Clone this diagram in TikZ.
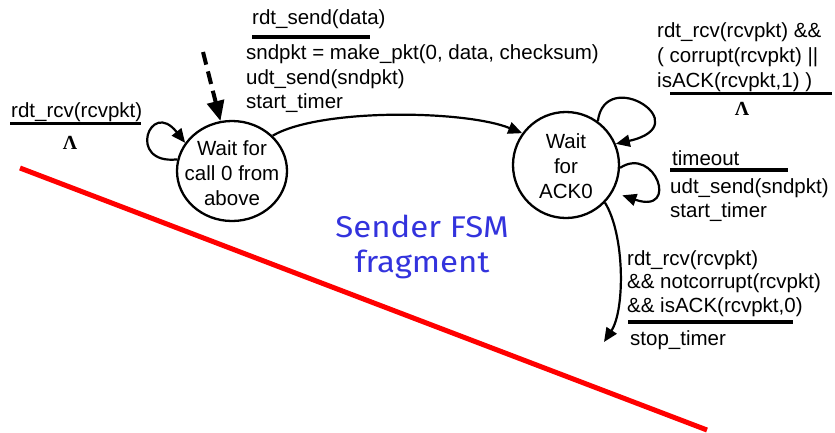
\documentclass[tikz,border=0pt]{standalone}
\usepackage{fontspec}
\setmainfont{Liberation Sans}
\newfontfamily\lamfont{Liberation Serif}
\newfontfamily\fsmfont[FakeStretch=1.1]{Fira Sans}
\usetikzlibrary{arrows.meta,shapes.geometric,calc}
\definecolor{fsmblue}{RGB}{51,51,221}
\definecolor{fsmred}{RGB}{255,0,0}
\tikzset{
  lbl/.style={inner sep=0pt, anchor=base west, font=\fontsize{20.5}{25}\selectfont},
  lam/.style={inner sep=0pt, anchor=base, font=\lamfont\bfseries\fontsize{20}{22}\selectfont},
  statetext/.style={inner sep=0pt, align=center, font=\fontsize{20.5}{25}\selectfont},
  stateshape/.style={draw, line width=2.3pt, inner sep=0pt},
  trans/.style={line width=2.2pt, -{Triangle[length=14pt,width=12pt]}},
  guard/.style={line width=3.5pt},
  fsmlbl/.style={inner sep=0pt, anchor=base, text=fsmblue, font=\fsmfont\fontsize{30}{35}\selectfont},
}
\begin{document}
\begin{tikzpicture}[x=1pt,y=-1pt]
\useasboundingbox (0,0) rectangle (835,432);

% red divider
\coordinate (r1) at (20,168);
\coordinate (r2) at (707,430);
\draw[fsmred, line width=5pt] (r1) -- (r2);

% states
\node[stateshape, ellipse, minimum width=110pt, minimum height=100pt] (w0) at (232,171) {};
\node[statetext] (w0t) at ($(w0.center)+(0,2)$) {Wait for\\call 0 from\\above};
\node[stateshape, circle, minimum size=106pt] (w1) at (566,165) {};
\node[statetext] (w1t) at ($(w1.center)+(0,1)$) {Wait\\for\\ACK0};

% initial dashed arrow
\coordinate (d0) at (203,52);
\draw[line width=4pt, dash pattern=on 13pt off 7pt, -{Triangle[length=20pt,width=17pt]}] (d0) -- (w0.103);

% transitions
\draw[trans] (w0.168) .. controls (126,165) and (150,98) .. (w0.149);
\draw[trans] (w0.41) .. controls (320,108) and (465,110) .. (w1.144);
\draw[trans] (w1.54) .. controls (605,65) and (700,125) .. (w1.23);
\draw[trans, shorten >=10pt] (w1.-3) .. controls (655,145) and (680,215) .. (w1.-30);
\coordinate (b0) at (604,342);
\draw[trans] (w1.-44) .. controls (625,235) and (625,310) .. (b0);

% top label
\node[lbl] (t1) at (252,24) {rdt\_send(data)};
\coordinate (t1a) at (252,37); \coordinate (t1b) at (370,37);
\draw[guard] (t1a) -- (t1b);
\node[lbl] (t2) at (246,59) {sndpkt = make\_pkt(0, data, checksum)};
\node[lbl] (t3) at (246,84) {udt\_send(sndpkt)};
\node[lbl] (t4) at (246,108) {start\_timer};

% left label
\node[lbl] (l1) at (11,117) {rdt\_rcv(rcvpkt)};
\coordinate (l1a) at (10,123.5); \coordinate (l1b) at (141,123.5);
\draw[guard] (l1a) -- (l1b);
\node[lam] (l2) at (70,149) {Λ};

% right top label
\node[lbl] (u1) at (657,37) {rdt\_rcv(rcvpkt) \&\&};
\node[lbl] (u2) at (657,62) {( corrupt(rcvpkt) ||};
\node[lbl] (u3) at (657,87) {isACK(rcvpkt,1) )};
\coordinate (u3a) at (670,93.5); \coordinate (u3b) at (832,93.5);
\draw[guard] (u3a) -- (u3b);
\node[lam] (u4) at (742,115) {Λ};

% timeout label
\node[lbl] (o1) at (672,165) {timeout};
\coordinate (o1a) at (670,170); \coordinate (o1b) at (788,170);
\draw[guard] (o1a) -- (o1b);
\node[lbl] (o2) at (670,193) {udt\_send(sndpkt)};
\node[lbl] (o3) at (670,217) {start\_timer};

% bottom label
\node[lbl] (b1) at (627,265) {rdt\_rcv(rcvpkt)};
\node[lbl] (b2) at (627,288) {\&\& notcorrupt(rcvpkt)};
\node[lbl] (b3) at (627,312) {\&\& isACK(rcvpkt,0)};
\coordinate (b3a) at (628,322); \coordinate (b3b) at (793,322);
\draw[guard] (b3a) -- (b3b);
\node[lbl] (b4) at (630,345) {stop\_timer};

% caption
\node[fsmlbl] (c1) at (422,237) {Sender FSM};
\node[fsmlbl] (c2) at (422,272) {fragment};
\end{tikzpicture}
\end{document}
